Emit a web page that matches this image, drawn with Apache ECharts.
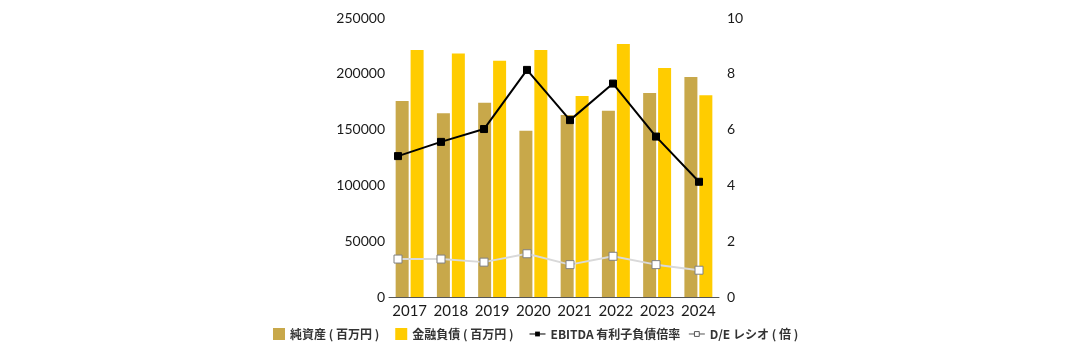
<!DOCTYPE html>
<html>
<head>
<meta charset="utf-8">
<script src="https://cdn.jsdelivr.net/npm/echarts@6/dist/echarts.min.js"></script>
<style>
html,body{margin:0;padding:0;background:#fff;}
#chart{width:1080px;height:346px;}
</style>
</head>
<body>
<div id="chart"></div>
<script>
const years = ['2017','2018','2019','2020','2021','2022','2023','2024'];
const netAssets = [175600, 164600, 174100, 149000, 163100, 167000, 182800, 197100];
const financialDebt = [221300, 218300, 211800, 221300, 180100, 226700, 205200, 180700];
const ebitdaRatio = [5.05, 5.56, 6.02, 8.14, 6.34, 7.65, 5.75, 4.13];
const deRatio = [1.36, 1.36, 1.25, 1.55, 1.16, 1.46, 1.16, 0.96];
const leftTicks = [0, 50000, 100000, 150000, 200000, 250000];
const rightTicks = [0, 2, 4, 6, 8, 10];

const names = ['純資産 ( 百万円 )', '金融負債 ( 百万円 )', 'EBITDA 有利子負債倍率', 'D/E レシオ ( 倍 )'];
const brown = '#C8A84A';
const yellow = '#FFCC00';
const numFont = 'Lato, "Open Sans", sans-serif';
const cjkFont = '"Noto Sans CJK JP", "Noto Sans", sans-serif';
const legendText = {fontFamily: cjkFont, fontSize: 12, fontWeight: 'bold', color: '#333'};

const chart = echarts.init(document.getElementById('chart'), null, {renderer: 'canvas'});
chart.setOption({
  animation: false,
  backgroundColor: '#ffffff',
  grid: [
    {left: 389, right: 361, top: 18, bottom: 49, containLabel: false},
    {left: 398, right: 381, top: 18, bottom: 49, containLabel: false}
  ],
  legend: [
    {
      bottom: 6, left: 273, padding: 0,
      itemWidth: 12, itemHeight: 12, itemGap: 16,
      textStyle: legendText,
      data: [
        {name: names[0], icon: 'rect'},
        {name: names[1], icon: 'rect'}
      ]
    },
    {
      bottom: 6, left: 529, padding: 0,
      itemWidth: 16, itemHeight: 6, itemGap: 8,
      textStyle: legendText,
      data: [
        {name: names[2], lineStyle: {width: 1, color: '#000'}, itemStyle: {color: '#000', borderWidth: 0}},
        {name: names[3], lineStyle: {width: 1, color: '#555'}, itemStyle: {color: '#fff', borderColor: '#555', borderWidth: 1}}
      ]
    }
  ],
  xAxis: [
    {
      type: 'category', gridIndex: 0, data: years,
      axisLine: {show: true, lineStyle: {color: '#555', width: 1}},
      axisTick: {show: false},
      axisLabel: {fontFamily: numFont, fontSize: 15, color: '#1a1a1a', margin: 7, interval: 0}
    },
    {
      type: 'category', gridIndex: 1, data: years, boundaryGap: false, show: false
    }
  ],
  yAxis: [
    {
      type: 'value', gridIndex: 0, min: leftTicks[0], max: leftTicks[leftTicks.length - 1], interval: 50000,
      axisLine: {show: false}, axisTick: {show: false}, splitLine: {show: false},
      axisLabel: {fontFamily: numFont, fontSize: 14, color: '#1a1a1a', margin: 4, formatter: v => String(v)}
    },
    {
      type: 'value', gridIndex: 0, position: 'right', min: rightTicks[0], max: rightTicks[rightTicks.length - 1], interval: 2,
      axisLine: {show: false}, axisTick: {show: false}, splitLine: {show: false},
      axisLabel: {fontFamily: numFont, fontSize: 14, color: '#1a1a1a', margin: 8}
    },
    {
      type: 'value', gridIndex: 1, min: 0, max: 10, show: false
    }
  ],
  series: [
    {
      name: names[0], type: 'bar', xAxisIndex: 0, yAxisIndex: 0, data: netAssets,
      barWidth: 13, barGap: '15%', itemStyle: {color: brown}
    },
    {
      name: names[1], type: 'bar', xAxisIndex: 0, yAxisIndex: 0, data: financialDebt,
      barWidth: 13, barGap: '15%', itemStyle: {color: yellow}
    },
    {
      name: names[2], type: 'line', xAxisIndex: 1, yAxisIndex: 2, data: ebitdaRatio,
      symbol: 'rect', symbolSize: 7, z: 5,
      lineStyle: {color: '#000', width: 2},
      itemStyle: {color: '#000', borderColor: '#000'}
    },
    {
      name: names[3], type: 'line', xAxisIndex: 1, yAxisIndex: 2, data: deRatio,
      symbol: 'rect', symbolSize: 8, z: 5,
      lineStyle: {color: '#D9D9D9', width: 2},
      itemStyle: {color: '#ffffff', borderColor: '#808080', borderWidth: 1}
    }
  ]
});
</script>
</body>
</html>
